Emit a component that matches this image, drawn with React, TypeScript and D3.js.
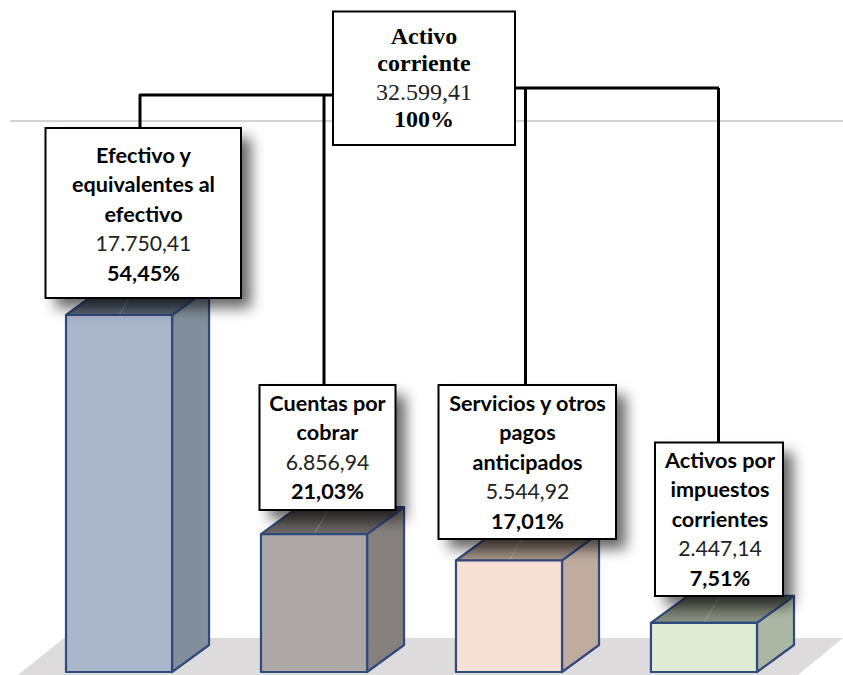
import React from "react";
import * as d3 from "d3";

// ---- data ----
const categories = ["Efectivo y equivalentes al efectivo", "Cuentas por cobrar", "Servicios y otros pagos anticipados", "Activos por impuestos corrientes"];
const values = [17750.41, 6856.94, 5544.92, 2447.14];
const valueLabels = ["17.750,41", "6.856,94", "5.544,92", "2.447,14"];
const percentLabels = ["54,45%", "21,03%", "17,01%", "7,51%"];
const titleLines = [
  ["Efectivo y", "equivalentes al", "efectivo"],
  ["Cuentas por", "cobrar"],
  ["Servicios y otros", "pagos", "anticipados"],
  ["Activos por", "impuestos", "corrientes"],
];
const rootTitle = ["Activo", "corriente"];
const rootValue = "32.599,41";
const rootPercent = "100%";
const gridValue = 26056;

// ---- styling and layout ----
const frontColors = ["#a9b5c8", "#ada8a6", "#f7e1d5", "#e0ebd6"];
const sideColors = ["#838e9c", "#85807d", "#c0ac9f", "#abb7a5"];
const topColors = ["#5c6878", "#6f6967", "#a8968a", "#88917f"];
const edge = "#2f4a7c";
const boxes = [
  { x: 45.5, y: 128, w: 195.5, h: 170, cx: 143.5, first: 163 },
  { x: 259.5, y: 385, w: 136, h: 125, cx: 327.5, first: 411 },
  { x: 438.5, y: 385, w: 177.5, h: 154, cx: 527.5, first: 411 },
  { x: 655, y: 442.5, w: 128, h: 153.5, cx: 720, first: 468 },
];
const lineGap = 29.4;
const depthX = 37;
const depthY = 27;
const baseY = 672;
const W = 843;
const H = 675;

const x = d3.scaleBand<string>().domain(categories).range([66, 757]).paddingInner(0.456).paddingOuter(0);
const y = d3.scaleLinear().domain([0, 17750.41]).range([baseY, 315]);
const pts = (p: number[][]) => p.map((q) => q.join(",")).join(" ");
const link = d3.line();

export default function App() {
  const bw = x.bandwidth();
  const gridY = y(gridValue) - depthY;
  const connectors: [number, number][][] = [
    [[140, 129], [140, 95], [334, 95]],
    [[324, 95], [324, 385]],
    [[515, 88], [719, 88]],
    [[525.5, 88], [525.5, 385]],
    [[718.5, 88], [718.5, 443]],
  ];
  return (
    <svg width={W} height={H} viewBox={`0 0 ${W} ${H}`} style={{ position: "fixed", left: 0, top: 0, background: "#fff" }}>
      <defs>
        <filter id="shadow" x="-25%" y="-25%" width="160%" height="160%">
          <feGaussianBlur stdDeviation="7" />
        </filter>
        {topColors.map((c, i) => (
          <linearGradient key={i} id={`top${i}`} x1="0" y1="0" x2="0" y2="1">
            <stop offset="0" stopColor={d3.color(c)!.darker(0.9).formatHex()} />
            <stop offset="1" stopColor={c} />
          </linearGradient>
        ))}
      </defs>
      <polygon points={pts([[64, 638], [843, 638], [798, 675], [18, 675]])} fill="#dedbdc" />
      <line x1={10} x2={W} y1={gridY} y2={gridY} stroke="#c4c4c4" strokeWidth={1.5} />
      {categories.map((c, i) => {
        const x0 = x(c)!;
        const x1 = x0 + bw;
        const t = y(values[i]);
        return (
          <g key={c} stroke={edge} strokeWidth={2.2} strokeLinejoin="round">
            <polygon points={pts([[x1, t], [x1 + depthX, t - depthY], [x1 + depthX, baseY - depthY], [x1, baseY]])} fill={sideColors[i]} />
            <polygon points={pts([[x0, t], [x0 + depthX, t - depthY], [x1 + depthX, t - depthY], [x1, t]])} fill={`url(#top${i})`} />
            <line x1={x0 + bw / 2} y1={t} x2={x0 + bw / 2 + 15} y2={t - 25} stroke="#fff" strokeOpacity={0.25} strokeWidth={1} />
            <rect x={x0} y={t} width={bw} height={baseY - t} fill={frontColors[i]} />
          </g>
        );
      })}
      {connectors.map((c, i) => (
        <path key={i} d={link(c)!} fill="none" stroke="#000" strokeWidth={3} strokeLinejoin="round" />
      ))}
      {boxes.map((b, i) => (
        <rect key={i} x={b.x + 10} y={b.y + 10} width={b.w} height={b.h} fill="#000" fillOpacity={0.6} filter="url(#shadow)" />
      ))}
      {boxes.map((b, i) => {
        const lines = titleLines[i];
        return (
          <g key={i} textAnchor="middle" fontFamily="Lato, sans-serif" fontSize={21.6}>
            <rect x={b.x} y={b.y} width={b.w} height={b.h} fill="#fff" stroke="#000" strokeWidth={2} />
            {lines.map((l, j) => (
              <text key={j} x={b.cx} y={b.first + j * lineGap} fontWeight={700} fill="#000">{l}</text>
            ))}
            <text x={b.cx} y={b.first + lines.length * lineGap} fill="#222" fontSize={21.2}>{valueLabels[i]}</text>
            <text x={b.cx} y={b.first + (lines.length + 1) * lineGap} fontWeight={700} fill="#000">{percentLabels[i]}</text>
          </g>
        );
      })}
      <g textAnchor="middle" fontFamily="'Liberation Serif', serif" fontSize={24}>
        <rect x={333} y={11.5} width={182} height={133.5} fill="#fff" stroke="#000" strokeWidth={2} />
        <text x={424} y={44} fontWeight={700}>{rootTitle[0]}</text>
        <text x={424} y={71} fontWeight={700}>{rootTitle[1]}</text>
        <text x={424} y={100} fill="#222">{rootValue}</text>
        <text x={424} y={127} fontWeight={700}>{rootPercent}</text>
      </g>
    </svg>
  );
}
